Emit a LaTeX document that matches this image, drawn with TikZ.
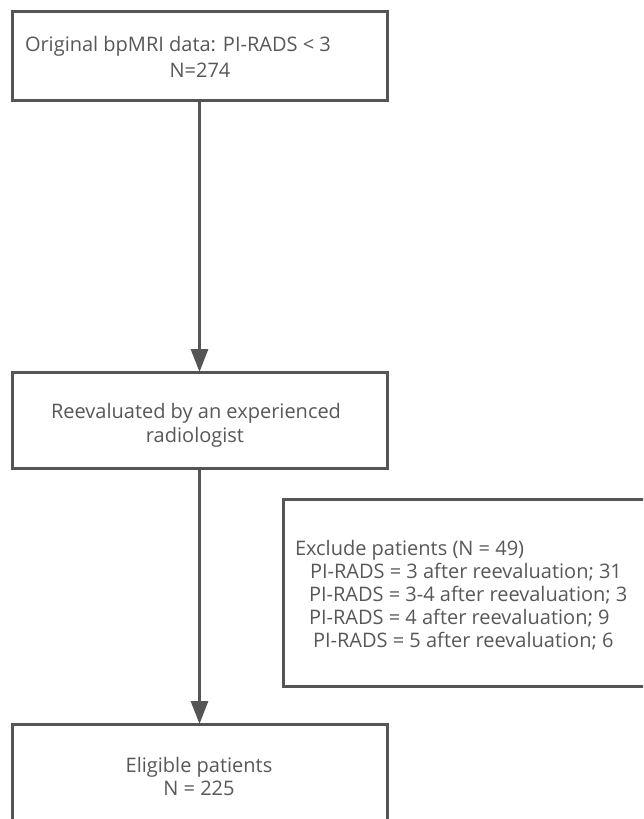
\documentclass[tikz,border=0pt]{standalone}
\usepackage{fontspec}
\setmainfont{Open Sans}
\usetikzlibrary{arrows.meta}
\definecolor{linegray}{HTML}{555555}
\definecolor{textgray}{HTML}{585858}
\tikzset{
  box/.style={draw=linegray, line width=3pt, rectangle, inner sep=0pt, outer sep=0pt},
  txt/.style={inner sep=0pt, outer sep=0pt, text=textgray, font=\fontsize{20}{24}\selectfont},
  arr/.style={draw=linegray, line width=3pt, -{Triangle[length=23pt,width=17pt]}}
}
\begin{document}
\begin{tikzpicture}[x=1pt,y=-1pt]
\useasboundingbox (0,0) rectangle (643,819);
\clip (0,0) rectangle (643,819);
\fill[white] (0,0) rectangle (643,819);
% boxes
\node[box, minimum width=375pt, minimum height=89pt] (top) at (199.5,55.5) {};
\node[box, minimum width=375pt, minimum height=96pt] (mid) at (199.5,420) {};
\node[box, minimum width=375pt, minimum height=110pt] (bot) at (199.5,779) {};
\node[box, minimum width=377pt, minimum height=187pt] (excl) at (471.5,592.5) {};
% texts
\node[txt, anchor=base west] (t1a) at (25,51) {Original bpMRI data: PI-RADS < 3};
\node[txt, anchor=base] (t1b) at (200,77) {N=274};
\node[txt, anchor=base] (t2a) at (196,418) {Reevaluated by an experienced};
\node[txt, anchor=base] (t2b) at (195,442) {radiologist};
\node[txt, anchor=base] (t3a) at (199,772) {Eligible patients};
\node[txt, anchor=base] (t3b) at (199,795) {N = 225};
\node[txt, anchor=base west] (e1) at (295,555) {Exclude patients (N = 49)};
\node[txt, anchor=base west] (e2) at (310,578) {PI-RADS = 3 after reevaluation; 31};
\node[txt, anchor=base west] (e3) at (309,601) {PI-RADS = 3-4 after reevaluation; 3};
\node[txt, anchor=base west] (e4) at (309,624) {PI-RADS = 4 after reevaluation; 9};
\node[txt, anchor=base west] (e5) at (313,647) {PI-RADS = 5 after reevaluation; 6};
% connectors
\draw[arr] (top.south) -- (mid.north);
\draw[arr] (mid.south) -- (bot.north);
\end{tikzpicture}
\end{document}
